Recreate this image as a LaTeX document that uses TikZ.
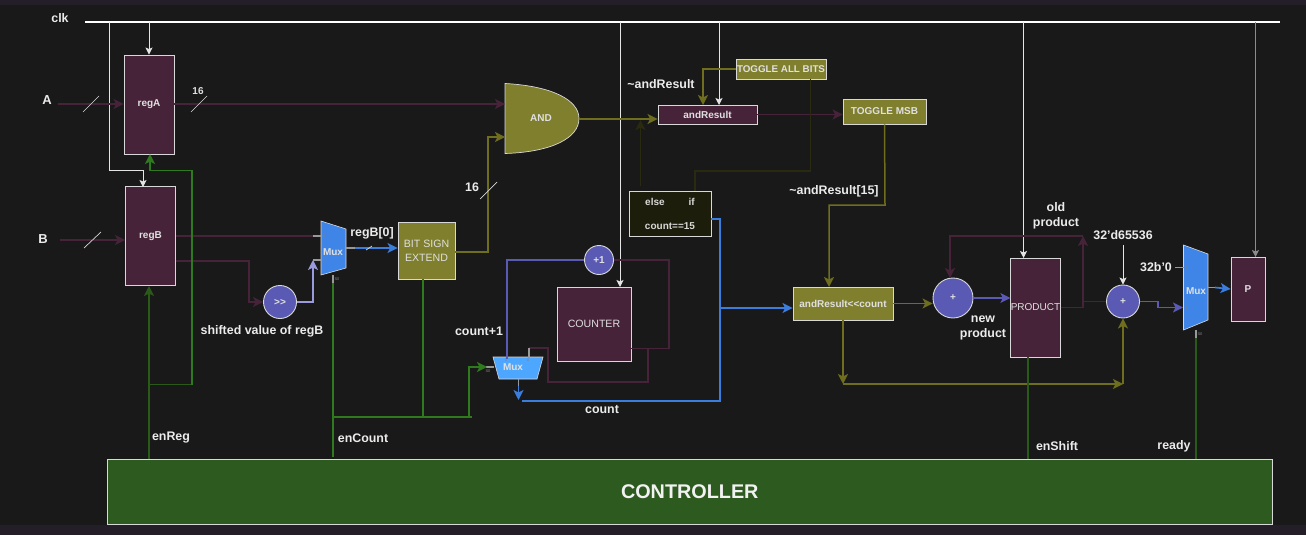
\documentclass[tikz,border=0pt]{standalone}
\usepackage{fontspec}
\setmainfont{Liberation Sans}
\usetikzlibrary{arrows.meta}

\definecolor{bgmain}{HTML}{191919}
\definecolor{bgstrip}{HTML}{231E28}
\definecolor{edgec}{HTML}{D8D8D8}
\definecolor{maroonc}{HTML}{47233A}
\definecolor{olivec}{HTML}{7F7F2D}
\definecolor{wireolive}{HTML}{6E6E1E}
\definecolor{dimolive}{HTML}{2A2A10}
\definecolor{purplec}{HTML}{5A5AB5}
\definecolor{lilacc}{HTML}{9A9ADD}
\definecolor{bluec}{HTML}{3B7DDD}
\definecolor{muxblue}{HTML}{3F85E8}
\definecolor{muxsky}{HTML}{4DA6FF}
\definecolor{greenc}{HTML}{2D5A1E}
\definecolor{wiregreen}{HTML}{2F7A1C}
\definecolor{wiredark}{HTML}{2A5A18}

\tikzstyle{base}=[font=\bfseries\fontsize{10}{12}\selectfont, text=white!88!black, align=center, inner sep=0pt]
\tikzstyle{labelt}=[base, font=\bfseries\fontsize{12.4}{15}\selectfont, text=white!92!black]
\tikzstyle{plain}=[font=\fontsize{10.6}{12}\selectfont]
\tikzstyle{sigbox}=[base, draw=edgec, line width=0.9pt, fill=maroonc]
\tikzstyle{oliveb}=[base, draw=edgec, line width=0.9pt, fill=olivec]
\tikzstyle{circ}=[base, circle, draw=edgec, line width=0.9pt, fill=purplec]
\tikzstyle{muxshape}=[draw=edgec, line width=0.6pt]
\tikzstyle{tiny}=[base, font=\fontsize{4}{5}\selectfont, text=gray]
\tikzstyle{tip}=[-{Stealth[length=10pt,width=10pt,inset=2.5pt]}]
\tikzstyle{clkw}=[draw=white!90!black, line width=0.9pt, -{Stealth[length=7pt,width=7pt,inset=1.5pt]}]
\tikzstyle{wm}=[draw=maroonc, line width=1.5pt]
\tikzstyle{wo}=[draw=wireolive, line width=1.5pt]
\tikzstyle{wd}=[draw=dimolive, line width=1.5pt]
\tikzstyle{wp}=[draw=purplec, line width=1.7pt]
\tikzstyle{wb}=[draw=bluec, line width=1.7pt]
\tikzstyle{wg}=[draw=wiregreen, line width=1.5pt]
\tikzstyle{wk}=[draw=wiredark, line width=1.5pt]
\tikzstyle{stub}=[draw=gray!80, line width=1.1pt]
\tikzstyle{slash}=[draw=edgec, line width=0.7pt]

\begin{document}
\begin{tikzpicture}[x=1pt, y=-1pt]
      \useasboundingbox (0,0) rectangle (1306,535);
      \fill[bgmain] (0,0) rectangle (1306,535);
      \fill[bgstrip] (0,0) rectangle (1306,5);
      \fill[bgstrip] (0,525) rectangle (1306,535);

      % blocks
      \node[sigbox, minimum width=50pt, minimum height=99pt] (regA) at (149,104.5) {regA};
      \node[sigbox, minimum width=50pt, minimum height=99pt] (regB) at (150.5,236) {regB};
      \node[circ, minimum size=33pt] (shift) at (280,302) {>{}>};
      \node[oliveb, plain, minimum width=57pt, minimum height=57pt] (extend) at (426.5,250.5) {BIT SIGN\\[2pt]EXTEND};
      \node[sigbox, minimum width=99pt, minimum height=19pt] (andres) at (707.5,114.5) {andResult};
      \node[oliveb, font=\bfseries\fontsize{9.8}{12}\selectfont, minimum width=90pt, minimum height=20pt] (toggleall) at (781,69) {TOGGLE ALL BITS};
      \node[oliveb, minimum width=83pt, minimum height=25pt] (togglemsb) at (884.5,111.5) {TOGGLE MSB};
      \node[base, draw=edgec, line width=0.9pt, fill=dimolive!70!black, minimum width=82pt, minimum height=45pt, text=white!85!black] (elseif) at (670,213.5) {else\hspace{24pt}if\\[12pt]count==15};
      \node[circ, minimum size=29pt] (inc) at (599,260) {+1};
      \node[sigbox, plain, minimum width=74pt, minimum height=74pt] (counter) at (594,324) {COUNTER};
      \node[oliveb, minimum width=100pt, minimum height=33pt] (shiftres) at (843,303.5) {andResult<{}<count};
      \node[circ, minimum size=40pt] (addA) at (953,298) {+};
      \node[sigbox, font=\fontsize{10}{12}\selectfont, minimum width=49pt, minimum height=99pt] (product) at (1035.5,307.5) {PRODUCT};
      \node[circ, minimum size=33pt] (addB) at (1123,301.5) {+};
      \node[sigbox, minimum width=34pt, minimum height=64pt] (pout) at (1248,289) {P};
      \node[base, draw=edgec, line width=0.9pt, fill=greenc, minimum width=1164.5pt, minimum height=65.5pt, font=\bfseries\fontsize{19.8}{24}\selectfont, text=white!95!black] (ctrl) at (689.75,491.75) {CONTROLLER};

      % and gate + muxes
      \filldraw[fill=olivec, draw=edgec, line width=0.7pt] (505,83.5) .. controls (552,86) and (579,100) .. (579,118.5) .. controls (579,138) and (552,152) .. (505,153.5) -- cycle;
      \node[base] (andg) at (541,118) {AND};
      \coordinate (andin1) at (505,104);
      \coordinate (andin2) at (505,137);
      \coordinate (andout) at (579,119);

      \filldraw[fill=muxblue, muxshape] (321,221) -- (346,229) -- (346,268) -- (321,275) -- cycle;
      \node[base] (muxB) at (333,252) {Mux};
      \node[tiny] (muxB0) at (324,236) {0};
      \node[tiny] (muxB1) at (324,260) {1};
      \node[tiny] (muxBs) at (337,279) {S0};

      \filldraw[fill=muxsky, muxshape] (493,357) -- (543,357) -- (537,379) -- (499,379) -- cycle;
      \node[base] (muxC) at (513,367) {Mux};
      \node[tiny] (muxC0) at (528,360) {0};
      \node[tiny] (muxC1) at (506,360) {1};
      \node[tiny] (muxCs) at (488,371) {S0};

      \filldraw[fill=muxblue, muxshape] (1183.5,245) -- (1208,254) -- (1208,320) -- (1183.5,330) -- cycle;
      \node[base] (muxP) at (1196,291) {Mux};
      \node[tiny] (muxP0) at (1186.5,268) {0};
      \node[tiny] (muxP1) at (1186.5,308) {1};
      \node[tiny] (muxPs) at (1200,334) {S0};

      % clock
      \node[labelt] (clk) at (60,18) {clk};
      \coordinate (clkl) at (85,22);
      \coordinate (clkr) at (1280,22);
      \draw[draw=white, line width=1.7pt] (clkl) -- (clkr);
      \draw[clkw] (regA.north |- clkl) -- (regA.north);
      \draw[clkw] (109.5,22) -- (109.5,170) -- (143,170) -- (143,187);
      \draw[clkw] (719,22) -- (719,105);
      \draw[clkw] (620,22) -- (620,287);
      \draw[clkw] (1023.5,22) -- (1023.5,258);
      \draw[clkw, draw=gray!90] (1255.5,22) -- (1255.5,257);

      % regA, regB
      \node[labelt, font=\bfseries\fontsize{13}{15}\selectfont] (inA) at (47,100) {A};
      \node[labelt, font=\bfseries\fontsize{13}{15}\selectfont] (inB) at (43,239) {B};
      \coordinate (inAw) at (58,104);
      \coordinate (inBw) at (60,240);
      \draw[wm, tip] (inAw) -- (regA.west |- inAw);
      \draw[wm, tip] (inBw) -- (regB.west |- inBw);
      \draw[wm, tip] (regA.east |- andin1) -- (andin1);
      \draw[slash] (83,112) -- (99,96);
      \draw[slash] (84,248) -- (101,232);
      \draw[slash] (191,112) -- (207,96);
      \node[base] (w16a) at (198,91) {16};

      \draw[wm] (regB.east) -- (313,236);
      \draw[stub] (313,236) -- (321,236);
      \draw[wm, tip] (175.5,261) -- (249,261) -- (249,302) -- (shift.west);
      \draw[draw=lilacc, line width=1.7pt, tip] (shift.east) -- (313,302) -- (313,260);
      \draw[stub] (313,260) -- (321,260);
      \draw[stub] (346,248) -- (355,248);
      \draw[wb, tip] (355,248) -- (extend.west |- 0,248);
      \draw[slash] (366,250) -- (372,246);
      \node[labelt] (regbzero) at (372,233) {regB[0]};
      \node[labelt] (shlabel) at (262,331) {shifted value of regB};

      % and path
      \draw[wo, tip] (extend.east |- 0,252) -- (488,252) -- (488,137) -- (andin2);
      \draw[slash] (480,199) -- (497,182);
      \node[labelt] (w16b) at (472,187) {16};
      \draw[wo, tip] (andout) -- (andres.west |- andout);
      \draw[wm, tip] (andres.east) -- (togglemsb.west |- andres.east);
      \draw[wo, tip] (toggleall.west) -- (703,69) -- (703,105);
      \draw[wd] (810.5,79) -- (810.5,171) -- (695,171) -- (695,191);
      \draw[wd, tip] (640.5,186) -- (640.5,120);
      \node[labelt] (nandres) at (661,84) {\textasciitilde andResult};
      \node[labelt] (nand15) at (834,191) {\textasciitilde andResult[15]};
      \draw[wo, tip] (togglemsb.south) -- (885,205) -- (829,205) -- (829,287);

      % counter
      \draw[wp] (inc.west) -- (507,260) -- (507,359);
      \draw[wm] (inc.east) -- (669,260) -- (669,348.5) -- (631,348.5);
      \draw[wm] (648,348.5) -- (648,382) -- (548,382) -- (548,348) -- (529,348);
      \draw[stub] (529,348) -- (529,358);
      \draw[stub] (486,367) -- (494,367);
      \draw[stub] (518.5,379) -- (518.5,388);
      \draw[wb, tip] (518.5,386) -- (518.5,400);
      \node[labelt] (cntone) at (479,331) {count+1};
      \node[labelt] (cnt) at (602,410) {count};

      % blue count bus
      \coordinate (busj) at (720,308);
      \draw[wb] (711,219) -- (720,219) -- (720,401) -- (522,401);
      \draw[wb, tip] (busj) -- (shiftres.west |- busj);

      % shift and add
      \draw[wo, tip] (shiftres.east) -- (addA.west |- shiftres.east);
      \draw[wp, tip] (addA.east) -- (product.west |- addA.east);
      \draw[wo, tip] (843,320) -- (843,384);
      \draw[wo, tip] (843,384) -- (1123,384);
      \draw[wo, tip] (1123,384) -- (addB.south);
      \draw[wm, tip] (product.east) -- (1083,307.5) -- (1083,236);
      \draw[wm, tip] (1083,236) -- (950,236) -- (950,278);
      \draw[wm] (1083,301.5) -- (addB.west);
      \draw[wp, tip] (addB.east) -- (1158,301.5) -- (1158,307.5) -- (1183,307.5);
      \draw[stub] (1175,267.5) -- (1184,267.5);
      \draw[stub] (1208,287.5) -- (1217,287.5);
      \draw[wb, tip] (1215,287.5) -- (pout.west);
      \draw[clkw] (1123,245) -- (addB.north);
      \node[labelt] (newp) at (983,327.5) {new\\product};
      \node[labelt] (oldp) at (1056,216) {old\\product};
      \node[labelt] (konst) at (1123,235) {32'd65536};
      \node[labelt] (zero) at (1156,267) {32b'0};

      % enables from the controller
      \draw[wk, tip] (149,459) -- (149,286);
      \draw[wk] (150,384.5) -- (192,384.5);
      \draw[wg, tip] (192,384.5) -- (192,170.5) -- (150,170.5) -- (150,154);
      \draw[stub] (333,275) -- (333,283);
      \draw[wg] (333,283) -- (333,457);
      \draw[wg] (333,417) -- (472,417);
      \draw[wg] (423,279) -- (423,417);
      \draw[wg, tip] (469,417) -- (469,367) -- (487,367);
      \draw[wk] (1028,357) -- (1028,459);
      \draw[stub] (1196,330) -- (1196,338);
      \draw[wk] (1196,338) -- (1196,459);
      \node[labelt] (lenreg) at (171,438) {enReg};
      \node[labelt] (lencount) at (363,438) {enCount};
      \node[labelt] (lenshift) at (1057,446) {enShift};
      \node[labelt] (lready) at (1174,446) {ready};
    \end{tikzpicture}
\end{document}
